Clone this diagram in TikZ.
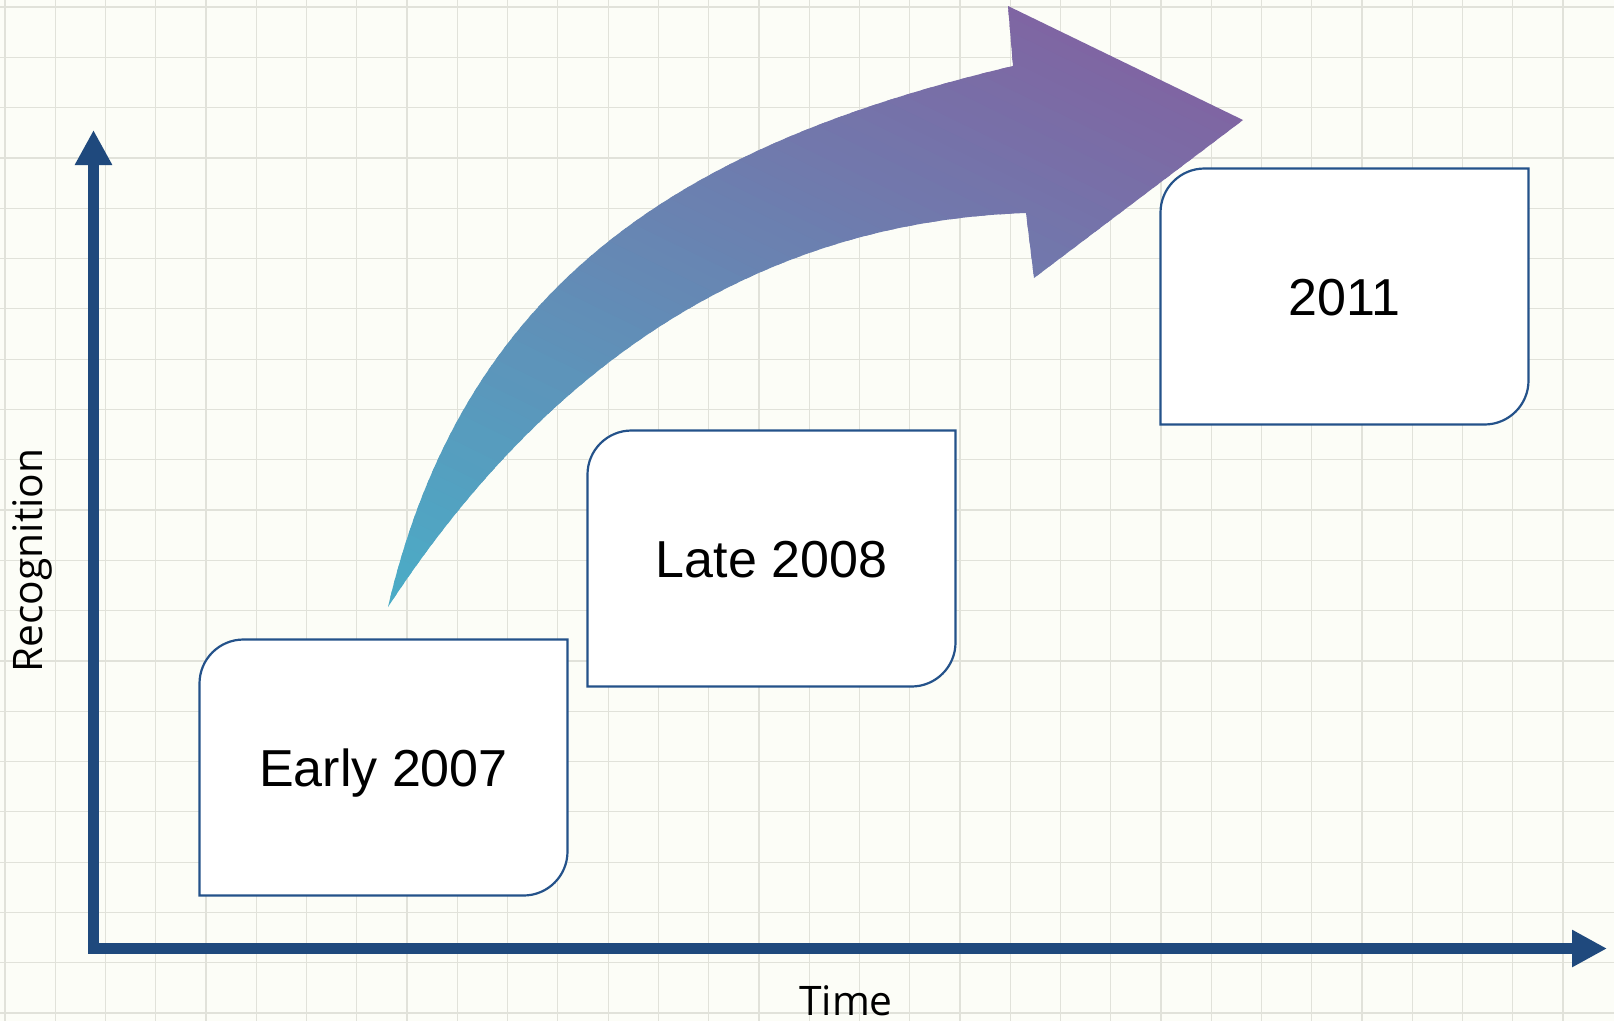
\documentclass[tikz,border=0pt]{standalone}
\usepackage{fontspec}
\setmainfont{Liberation Sans}
\newfontfamily\labelfont{Open Sans}
\usetikzlibrary{arrows.meta}
\definecolor{bgcol}{HTML}{FCFDF7}
\definecolor{gridcol}{HTML}{E1E2DA}
\definecolor{axiscol}{HTML}{1F497D}
\definecolor{boxcol}{HTML}{24528A}
\definecolor{arrowA}{HTML}{4BACC6}
\definecolor{arrowB}{HTML}{8064A2}
\begin{document}
\begin{tikzpicture}[x=1pt,y=-1pt,
  gridline/.style={draw=gridcol, line width=1.2pt},
  axisline/.style={draw=axiscol, line width=11pt, line join=miter,
    {Triangle[length=35pt,width=35pt]}-{Triangle[length=35pt,width=35pt]}},
  boxline/.style={draw=boxcol, line width=2.2pt, fill=white},
  yeartext/.style={inner sep=0pt, text height=37.2pt, text depth=0pt,
    font=\fontsize{52pt}{60pt}\selectfont, text=black},
  axislabel/.style={inner sep=0pt, font=\labelfont\fontsize{40.7pt}{48pt}\selectfont, text=black}
]
\useasboundingbox (0,0) rectangle (1614,1021);
\fill[bgcol] (0,0) rectangle (1614,1021);
% grid
\foreach \i in {0,...,31} \draw[gridline] ({5+50.26*\i},0) -- ({5+50.26*\i},1021);
\foreach \j in {0,...,20} \draw[gridline] (0,{7+50.3*\j}) -- (1614,{7+50.3*\j});

% boxes
\begin{scope}[shift={(383.5,767.5)}]
  \draw[boxline] (-184,128) -- (-184,-84) arc[start angle=180, end angle=90, radius=44pt]
    -- (184,-128) -- (184,84) arc[start angle=0, end angle=-90, radius=44pt] -- cycle;
  \node[yeartext] (b1) at (0,0) {Early 2007};
\end{scope}
\begin{scope}[shift={(771.5,558.5)}]
  \draw[boxline] (-184,128) -- (-184,-84) arc[start angle=180, end angle=90, radius=44pt]
    -- (184,-128) -- (184,84) arc[start angle=0, end angle=-90, radius=44pt] -- cycle;
  \node[yeartext] (b2) at (0,0) {Late 2008};
\end{scope}
\begin{scope}[shift={(1344.5,296.5)}]
  \draw[boxline] (-184,128) -- (-184,-84) arc[start angle=180, end angle=90, radius=44pt]
    -- (184,-128) -- (184,84) arc[start angle=0, end angle=-90, radius=44pt] -- cycle;
  \node[yeartext] (b3) at (0,0) {2011};
\end{scope}

% big curved arrow with a linear gradient (teal at the tail, purple at the head)
\begin{scope}
  \clip (388,607) .. controls (465.5,275.8) and (692,142.2) .. (1013,66)
    -- (1008,6) -- (1243,120) -- (1034,278) -- (1026,213)
    .. controls (726.3,223.2) and (524,399) .. (388,607) -- cycle;
  \foreach \k in {0,...,63} {
    \pgfmathsetmacro\sa{\k*13-3}
    \pgfmathsetmacro\sb{\k*13+16}
    \pgfmathtruncatemacro\pc{100*\k/63}
    \fill[arrowB!\pc!arrowA]
      ({388+0.438*\sa-0.899*900},{607-0.899*\sa-0.438*900})
      -- ({388+0.438*\sb-0.899*900},{607-0.899*\sb-0.438*900})
      -- ({388+0.438*\sb+0.899*900},{607-0.899*\sb+0.438*900})
      -- ({388+0.438*\sa+0.899*900},{607-0.899*\sa+0.438*900}) -- cycle;
  }
\end{scope}

% axes
\coordinate (ytip) at (93.5,130);
\coordinate (origin) at (93.5,948.5);
\coordinate (xtip) at (1607,948.5);
\draw[axisline] (ytip) -- (origin) -- (xtip);

\node[axislabel, rotate=90, anchor=base] (ylab) at (42,560.5) {Recognition};
\node[axislabel, anchor=base] (xlab) at (846,1015) {Time};
\end{tikzpicture}
\end{document}
